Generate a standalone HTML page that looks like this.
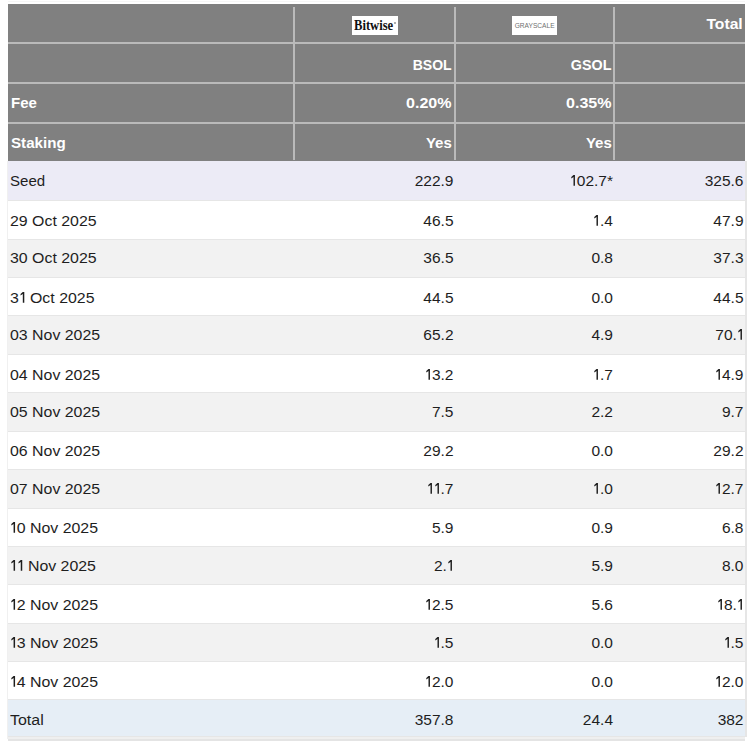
<!DOCTYPE html><html><head><meta charset="utf-8"><style>
*{margin:0;padding:0;box-sizing:border-box}
html,body{width:750px;height:744px;background:#fff;overflow:hidden}
body{position:relative;font-family:"Liberation Sans",sans-serif;font-size:15px}
div{position:absolute}
.t{white-space:nowrap;line-height:18px}
.h{color:#fff;font-weight:bold}
.b{color:#1e1e1e;font-size:15.5px}
.hl{background:#bababa}
.rt{text-align:right}
.one{display:inline-block;vertical-align:baseline;fill:#1e1e1e}
</style></head><body>
<div style="left:8px;top:4px;width:737px;height:157px;background:#808080"></div>
<div class="hl" style="left:8px;top:42px;width:737px;height:2px"></div>
<div class="hl" style="left:8px;top:82px;width:737px;height:2px"></div>
<div class="hl" style="left:8px;top:122px;width:737px;height:2px"></div>
<div class="hl" style="left:293px;top:7px;width:2px;height:153px"></div>
<div class="hl" style="left:454px;top:7px;width:2px;height:153px"></div>
<div class="hl" style="left:613px;top:7px;width:2px;height:153px"></div>
<div style="left:8px;top:1px;width:737px;height:1px;background:#f6f6f6"></div>
<div style="left:352px;top:16px;width:46px;height:19px;background:#fff"></div>
<div style="left:354px;top:16px;height:19px;font-family:'Liberation Serif',serif;font-weight:bold;font-size:14px;line-height:19px;color:#111;transform:scaleX(0.9);transform-origin:0 0;white-space:nowrap">Bitwise</div>
<div style="left:394px;top:21.6px;width:2.4px;height:2.4px;border:0.6px solid #777;border-radius:50%"></div>
<div style="left:512px;top:16px;width:45px;height:19px;background:#fff"></div>
<div style="left:512px;top:16px;width:45px;height:19px;font-size:7.5px;line-height:19.6px;color:#707070;text-align:center;transform:scaleX(0.88);white-space:nowrap">GRAYSCALE</div>
<div class="t h rt" style="right:7.5px;top:14.5px;transform-origin:100% 50%;transform:scaleX(1.045)">Total</div>
<div class="t h rt" style="right:298.5px;top:55.5px;transform-origin:100% 50%;transform:scaleX(0.935)">BSOL</div>
<div class="t h rt" style="right:138.5px;top:55.5px;transform-origin:100% 50%;transform:scaleX(0.956)">GSOL</div>
<div class="t h" style="left:11px;top:94px;">Fee</div>
<div class="t h rt" style="right:298.5px;top:94px;transform-origin:100% 50%;transform:scaleX(1.07)">0.20%</div>
<div class="t h rt" style="right:138.5px;top:94px;transform-origin:100% 50%;transform:scaleX(1.07)">0.35%</div>
<div class="t h" style="left:11px;top:133.5px;transform-origin:0 50%;transform:scaleX(1.01)">Staking</div>
<div class="t h rt" style="right:298.2px;top:133.5px;">Yes</div>
<div class="t h rt" style="right:138.2px;top:133.5px;">Yes</div>
<div style="left:8px;width:737px;top:161px;height:40px;background:#ecebf6;border-bottom:1px solid #e6e6e6"></div>
<div style="left:8px;width:737px;top:201px;height:39px;background:#ffffff;border-bottom:1px solid #e6e6e6"></div>
<div style="left:8px;width:737px;top:240px;height:38px;background:#f2f2f2;border-bottom:1px solid #e6e6e6"></div>
<div style="left:8px;width:737px;top:278px;height:38px;background:#ffffff;border-bottom:1px solid #e6e6e6"></div>
<div style="left:8px;width:737px;top:316px;height:39px;background:#f2f2f2;border-bottom:1px solid #e6e6e6"></div>
<div style="left:8px;width:737px;top:355px;height:38px;background:#ffffff;border-bottom:1px solid #e6e6e6"></div>
<div style="left:8px;width:737px;top:393px;height:39px;background:#f2f2f2;border-bottom:1px solid #e6e6e6"></div>
<div style="left:8px;width:737px;top:432px;height:38px;background:#ffffff;border-bottom:1px solid #e6e6e6"></div>
<div style="left:8px;width:737px;top:470px;height:39px;background:#f2f2f2;border-bottom:1px solid #e6e6e6"></div>
<div style="left:8px;width:737px;top:509px;height:38px;background:#ffffff;border-bottom:1px solid #e6e6e6"></div>
<div style="left:8px;width:737px;top:547px;height:38px;background:#f2f2f2;border-bottom:1px solid #e6e6e6"></div>
<div style="left:8px;width:737px;top:585px;height:39px;background:#ffffff;border-bottom:1px solid #e6e6e6"></div>
<div style="left:8px;width:737px;top:624px;height:38px;background:#f2f2f2;border-bottom:1px solid #e6e6e6"></div>
<div style="left:8px;width:737px;top:662px;height:38px;background:#ffffff;border-bottom:1px solid #e6e6e6"></div>
<div style="left:8px;width:737px;top:700px;height:37px;background:#e6eef6;border-bottom:1px solid #e6e6e6"></div>
<div class="t b" style="left:9.5px;top:172px;transform-origin:0 50%;transform:scaleX(0.97)">Seed</div>
<div class="t b rt" style="right:296.5px;top:172px;">222.9</div>
<div class="t b rt" style="right:137px;top:172px;"><svg class="one" width="6.6" height="10.7" viewBox="0 0 6.6 10.7"><path d="M3.5 0H4.95V10.7H3.5V1.9L1.3 3.5V2.1Z"/></svg>02.7*</div>
<div class="t b rt" style="right:6.5px;top:172px;">325.6</div>
<div class="t b" style="left:9.8px;top:212px;transform-origin:0 50%;transform:scaleX(1.025)">29 Oct 2025</div>
<div class="t b rt" style="right:296.5px;top:212px;">46.5</div>
<div class="t b rt" style="right:137px;top:212px;"><svg class="one" width="6.6" height="10.7" viewBox="0 0 6.6 10.7"><path d="M3.5 0H4.95V10.7H3.5V1.9L1.3 3.5V2.1Z"/></svg>.4</div>
<div class="t b rt" style="right:6.5px;top:212px;">47.9</div>
<div class="t b" style="left:9.8px;top:249px;transform-origin:0 50%;transform:scaleX(1.025)">30 Oct 2025</div>
<div class="t b rt" style="right:296.5px;top:249px;">36.5</div>
<div class="t b rt" style="right:137px;top:249px;">0.8</div>
<div class="t b rt" style="right:6.5px;top:249px;">37.3</div>
<div class="t b" style="left:9.8px;top:289px;transform-origin:0 50%;transform:scaleX(1.025)">3<svg class="one" width="6.6" height="10.7" viewBox="0 0 6.6 10.7"><path d="M3.5 0H4.95V10.7H3.5V1.9L1.3 3.5V2.1Z"/></svg> Oct 2025</div>
<div class="t b rt" style="right:296.5px;top:289px;">44.5</div>
<div class="t b rt" style="right:137px;top:289px;">0.0</div>
<div class="t b rt" style="right:6.5px;top:289px;">44.5</div>
<div class="t b" style="left:9.8px;top:326px;transform-origin:0 50%;transform:scaleX(1.025)">03 Nov 2025</div>
<div class="t b rt" style="right:296.5px;top:326px;">65.2</div>
<div class="t b rt" style="right:137px;top:326px;">4.9</div>
<div class="t b rt" style="right:6.5px;top:326px;">70.<svg class="one" width="6.6" height="10.7" viewBox="0 0 6.6 10.7"><path d="M3.5 0H4.95V10.7H3.5V1.9L1.3 3.5V2.1Z"/></svg></div>
<div class="t b" style="left:9.8px;top:366px;transform-origin:0 50%;transform:scaleX(1.025)">04 Nov 2025</div>
<div class="t b rt" style="right:296.5px;top:366px;"><svg class="one" width="6.6" height="10.7" viewBox="0 0 6.6 10.7"><path d="M3.5 0H4.95V10.7H3.5V1.9L1.3 3.5V2.1Z"/></svg>3.2</div>
<div class="t b rt" style="right:137px;top:366px;"><svg class="one" width="6.6" height="10.7" viewBox="0 0 6.6 10.7"><path d="M3.5 0H4.95V10.7H3.5V1.9L1.3 3.5V2.1Z"/></svg>.7</div>
<div class="t b rt" style="right:6.5px;top:366px;"><svg class="one" width="6.6" height="10.7" viewBox="0 0 6.6 10.7"><path d="M3.5 0H4.95V10.7H3.5V1.9L1.3 3.5V2.1Z"/></svg>4.9</div>
<div class="t b" style="left:9.8px;top:403px;transform-origin:0 50%;transform:scaleX(1.025)">05 Nov 2025</div>
<div class="t b rt" style="right:296.5px;top:403px;">7.5</div>
<div class="t b rt" style="right:137px;top:403px;">2.2</div>
<div class="t b rt" style="right:6.5px;top:403px;">9.7</div>
<div class="t b" style="left:9.8px;top:442px;transform-origin:0 50%;transform:scaleX(1.025)">06 Nov 2025</div>
<div class="t b rt" style="right:296.5px;top:442px;">29.2</div>
<div class="t b rt" style="right:137px;top:442px;">0.0</div>
<div class="t b rt" style="right:6.5px;top:442px;">29.2</div>
<div class="t b" style="left:9.8px;top:480px;transform-origin:0 50%;transform:scaleX(1.025)">07 Nov 2025</div>
<div class="t b rt" style="right:296.5px;top:480px;"><svg class="one" width="6.6" height="10.7" viewBox="0 0 6.6 10.7"><path d="M3.5 0H4.95V10.7H3.5V1.9L1.3 3.5V2.1Z"/></svg><svg class="one" width="6.6" height="10.7" viewBox="0 0 6.6 10.7"><path d="M3.5 0H4.95V10.7H3.5V1.9L1.3 3.5V2.1Z"/></svg>.7</div>
<div class="t b rt" style="right:137px;top:480px;"><svg class="one" width="6.6" height="10.7" viewBox="0 0 6.6 10.7"><path d="M3.5 0H4.95V10.7H3.5V1.9L1.3 3.5V2.1Z"/></svg>.0</div>
<div class="t b rt" style="right:6.5px;top:480px;"><svg class="one" width="6.6" height="10.7" viewBox="0 0 6.6 10.7"><path d="M3.5 0H4.95V10.7H3.5V1.9L1.3 3.5V2.1Z"/></svg>2.7</div>
<div class="t b" style="left:9.8px;top:519px;transform-origin:0 50%;transform:scaleX(1.025)"><svg class="one" width="6.6" height="10.7" viewBox="0 0 6.6 10.7"><path d="M3.5 0H4.95V10.7H3.5V1.9L1.3 3.5V2.1Z"/></svg>0 Nov 2025</div>
<div class="t b rt" style="right:296.5px;top:519px;">5.9</div>
<div class="t b rt" style="right:137px;top:519px;">0.9</div>
<div class="t b rt" style="right:6.5px;top:519px;">6.8</div>
<div class="t b" style="left:9.8px;top:557px;transform-origin:0 50%;transform:scaleX(1.025)"><svg class="one" width="6.6" height="10.7" viewBox="0 0 6.6 10.7"><path d="M3.5 0H4.95V10.7H3.5V1.9L1.3 3.5V2.1Z"/></svg><svg class="one" width="6.6" height="10.7" viewBox="0 0 6.6 10.7"><path d="M3.5 0H4.95V10.7H3.5V1.9L1.3 3.5V2.1Z"/></svg> Nov 2025</div>
<div class="t b rt" style="right:296.5px;top:557px;">2.<svg class="one" width="6.6" height="10.7" viewBox="0 0 6.6 10.7"><path d="M3.5 0H4.95V10.7H3.5V1.9L1.3 3.5V2.1Z"/></svg></div>
<div class="t b rt" style="right:137px;top:557px;">5.9</div>
<div class="t b rt" style="right:6.5px;top:557px;">8.0</div>
<div class="t b" style="left:9.8px;top:596px;transform-origin:0 50%;transform:scaleX(1.025)"><svg class="one" width="6.6" height="10.7" viewBox="0 0 6.6 10.7"><path d="M3.5 0H4.95V10.7H3.5V1.9L1.3 3.5V2.1Z"/></svg>2 Nov 2025</div>
<div class="t b rt" style="right:296.5px;top:596px;"><svg class="one" width="6.6" height="10.7" viewBox="0 0 6.6 10.7"><path d="M3.5 0H4.95V10.7H3.5V1.9L1.3 3.5V2.1Z"/></svg>2.5</div>
<div class="t b rt" style="right:137px;top:596px;">5.6</div>
<div class="t b rt" style="right:6.5px;top:596px;"><svg class="one" width="6.6" height="10.7" viewBox="0 0 6.6 10.7"><path d="M3.5 0H4.95V10.7H3.5V1.9L1.3 3.5V2.1Z"/></svg>8.<svg class="one" width="6.6" height="10.7" viewBox="0 0 6.6 10.7"><path d="M3.5 0H4.95V10.7H3.5V1.9L1.3 3.5V2.1Z"/></svg></div>
<div class="t b" style="left:9.8px;top:634px;transform-origin:0 50%;transform:scaleX(1.025)"><svg class="one" width="6.6" height="10.7" viewBox="0 0 6.6 10.7"><path d="M3.5 0H4.95V10.7H3.5V1.9L1.3 3.5V2.1Z"/></svg>3 Nov 2025</div>
<div class="t b rt" style="right:296.5px;top:634px;"><svg class="one" width="6.6" height="10.7" viewBox="0 0 6.6 10.7"><path d="M3.5 0H4.95V10.7H3.5V1.9L1.3 3.5V2.1Z"/></svg>.5</div>
<div class="t b rt" style="right:137px;top:634px;">0.0</div>
<div class="t b rt" style="right:6.5px;top:634px;"><svg class="one" width="6.6" height="10.7" viewBox="0 0 6.6 10.7"><path d="M3.5 0H4.95V10.7H3.5V1.9L1.3 3.5V2.1Z"/></svg>.5</div>
<div class="t b" style="left:9.8px;top:673px;transform-origin:0 50%;transform:scaleX(1.025)"><svg class="one" width="6.6" height="10.7" viewBox="0 0 6.6 10.7"><path d="M3.5 0H4.95V10.7H3.5V1.9L1.3 3.5V2.1Z"/></svg>4 Nov 2025</div>
<div class="t b rt" style="right:296.5px;top:673px;"><svg class="one" width="6.6" height="10.7" viewBox="0 0 6.6 10.7"><path d="M3.5 0H4.95V10.7H3.5V1.9L1.3 3.5V2.1Z"/></svg>2.0</div>
<div class="t b rt" style="right:137px;top:673px;">0.0</div>
<div class="t b rt" style="right:6.5px;top:673px;"><svg class="one" width="6.6" height="10.7" viewBox="0 0 6.6 10.7"><path d="M3.5 0H4.95V10.7H3.5V1.9L1.3 3.5V2.1Z"/></svg>2.0</div>
<div class="t b" style="left:9.8px;top:711px;transform-origin:0 50%;transform:scaleX(1.03)">Total</div>
<div class="t b rt" style="right:296.5px;top:711px;">357.8</div>
<div class="t b rt" style="right:137px;top:711px;">24.4</div>
<div class="t b rt" style="right:6.5px;top:711px;">382</div>
<div style="left:745px;top:161px;width:2px;height:576px;background:#e6e6e6"></div>
<div style="left:7px;top:161px;width:1px;height:578px;background:#f0f0f0"></div>
<div style="left:8px;top:737px;width:737px;height:2px;background:#efefef"></div>
<div style="left:8px;top:739px;width:737px;height:2px;background:#e4e4e4"></div>
</body></html>
